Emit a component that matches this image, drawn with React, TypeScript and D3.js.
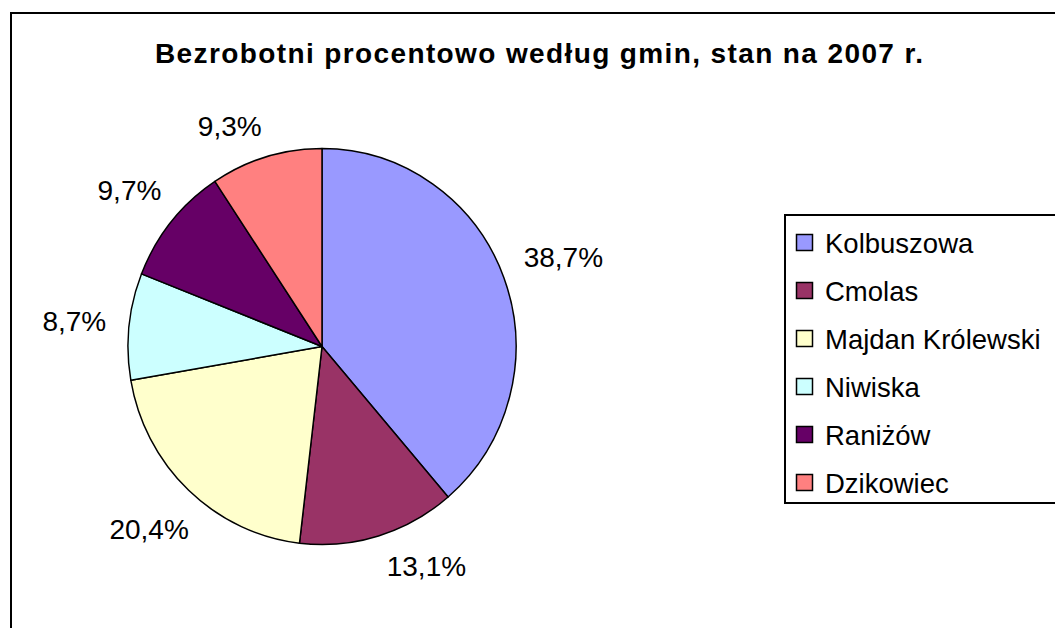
import React from "react";
import * as d3 from "d3";

const title = "Bezrobotni procentowo według gmin, stan na 2007 r.";
const categories = ["Kolbuszowa", "Cmolas", "Majdan Królewski", "Niwiska", "Raniżów", "Dzikowiec"];
const values = [38.7, 13.1, 20.4, 8.7, 9.7, 9.3];
const labels = ["38,7%", "13,1%", "20,4%", "8,7%", "9,7%", "9,3%"];
const colors = ["#9999FF", "#993366", "#FFFFCC", "#CCFFFF", "#660066", "#FF8080"];

const W = 1055;
const H = 628;
const cx = 322;
const cy = 346.5;
const ry = 198;
const rx = 194;
const font = "'Liberation Sans', Arial, sans-serif";
const labelSize = 28;

function labelPos(midAngle: number, halfWidth: number) {
  const hh = 11;
  const R0 = 216;
  const limit = 220;
  let a = midAngle;
  for (let k = 0; k < 200; k++) {
    const s = Math.sin(a), c = Math.cos(a);
    const ext = Math.abs(s) * halfWidth + Math.abs(c) * hh;
    const d = R0 + ext;
    const x = cx + d * s;
    const y = cy - d * c;
    if (Math.abs(y - cy) <= limit) return { x, y };
    a -= (0.5 * Math.PI) / 180;
  }
  return { x: cx + 240 * Math.sin(midAngle), y: cy - 240 * Math.cos(midAngle) };
}

export default function App() {
  const pie = d3.pie<number>().sort(null).value((d) => d)(values);
  const arc = d3.arc<d3.PieArcDatum<number>>().innerRadius(0).outerRadius(ry);
  const legendY = d3.scaleLinear().domain([0, 1]).range([243, 291]);

  return (
    <svg
      width={W}
      height={H}
      style={{ position: "absolute", left: 0, top: 0, background: "#fff" }}
    >
      <rect x={0} y={0} width={W} height={H} fill="#fff" />
      <rect x={11} y={13} width={W + 20} height={H + 20} fill="#fff" stroke="#000" strokeWidth={2} />
      <text
        x={539}
        y={63}
        textAnchor="middle"
        fontFamily={font}
        fontWeight="bold"
        fontSize={28}
        textLength={768}
        lengthAdjust="spacing"
      >
        {title}
      </text>
      <g transform={`translate(${cx},${cy}) scale(${rx / ry},1)`}>
        {pie.map((p, i) => (
          <path
            key={i}
            d={arc(p) || ""}
            fill={colors[i]}
            stroke="#000"
            strokeWidth={1.5}
            strokeLinejoin="round"
          />
        ))}
      </g>
      {pie.map((p, i) => {
        const mid = (p.startAngle + p.endAngle) / 2;
        const pos = labelPos(mid, labels[i].length * 8);
        return (
          <text
            key={i}
            x={pos.x}
            y={pos.y}
            textAnchor="middle"
            dominantBaseline="central"
            fontFamily={font}
            fontSize={labelSize}
            fill="#000"
          >
            {labels[i]}
          </text>
        );
      })}
      <rect x={785} y={215} width={W} height={288} fill="#fff" stroke="#000" strokeWidth={2} />
      {categories.map((c, i) => (
        <g key={c}>
          <rect
            x={796.5}
            y={legendY(i) - 8.5}
            width={16}
            height={16}
            fill={colors[i]}
            stroke="#000"
            strokeWidth={1.5}
          />
          <text
            x={825}
            y={legendY(i)}
            dominantBaseline="central"
            fontFamily={font}
            fontSize={27.5}
            fill="#000"
          >
            {c}
          </text>
        </g>
      ))}
    </svg>
  );
}
